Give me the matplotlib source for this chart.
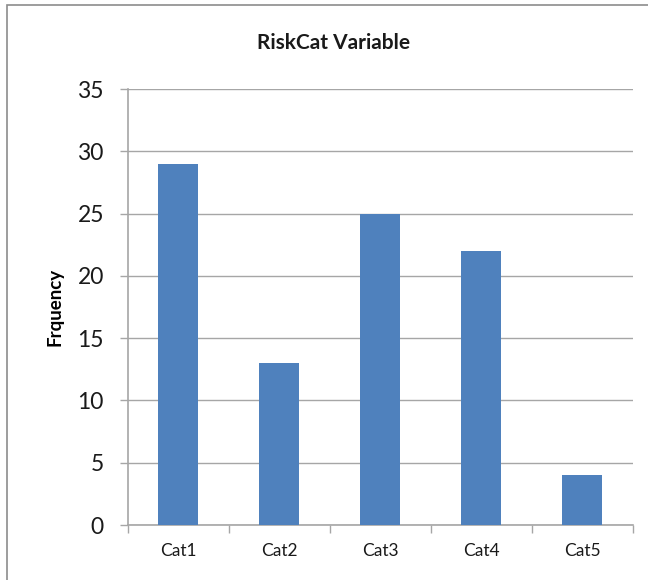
import matplotlib.pyplot as plt
from matplotlib.patches import Rectangle

categories = ["Cat1", "Cat2", "Cat3", "Cat4", "Cat5"]
frequency = [29, 13, 25, 22, 4]

plt.rcParams['font.family'] = ['Lato', 'DejaVu Sans']

W, H = 648, 580
fig = plt.figure(figsize=(W / 100, H / 100), dpi=100)

# chart area border (only top/left edges fall inside the canvas)
fig.patches.append(Rectangle((7 / W, -0.1), 1.2, 1 - 5 / H + 0.1,
                             transform=fig.transFigure, fill=False,
                             edgecolor='#8c8c8c', linewidth=1.2))

left, right, bottom, top = 127.5 / W, 632.5 / W, 1 - 525 / H, 1 - 89 / H
ax = fig.add_axes([left, bottom, right - left, top - bottom])

grid_col = '#a6a6a6'
x = range(len(categories))
ax.bar(x, frequency, width=0.4, color='#4f81bd', zorder=3)

ax.set_xlim(-0.5, len(categories) - 0.5)
ax.set_ylim(0, 35)
ax.set_yticks(range(0, 36, 5))
ax.tick_params(axis='y', labelsize=16.5, length=6, width=1, color=grid_col,
               pad=11, labelcolor='#1a1a1a')
ax.grid(axis='y', color=grid_col, linewidth=1, zorder=0)

# category labels centred, tick marks on the category boundaries
ax.set_xticks(list(x))
ax.set_xticklabels(categories)
ax.tick_params(axis='x', which='major', length=0, labelsize=12.5, pad=13,
               labelcolor='#1a1a1a')
ax.set_xticks([i - 0.5 for i in range(len(categories) + 1)], minor=True)
ax.tick_params(axis='x', which='minor', length=6, width=1, color=grid_col)

for side in ['top', 'right']:
    ax.spines[side].set_visible(False)
for side in ['left', 'bottom']:
    ax.spines[side].set_color(grid_col)
    ax.spines[side].set_linewidth(1.2)

ax.set_ylabel("Frquency", fontsize=13.5, fontweight='bold', labelpad=10)
fig.text((W / 2 + 10) / W, 1 - 43 / H, "RiskCat Variable", ha='center',
         va='center', fontsize=15, fontweight='bold', color='#1a1a1a')

fig.savefig("out.png", dpi=100)
